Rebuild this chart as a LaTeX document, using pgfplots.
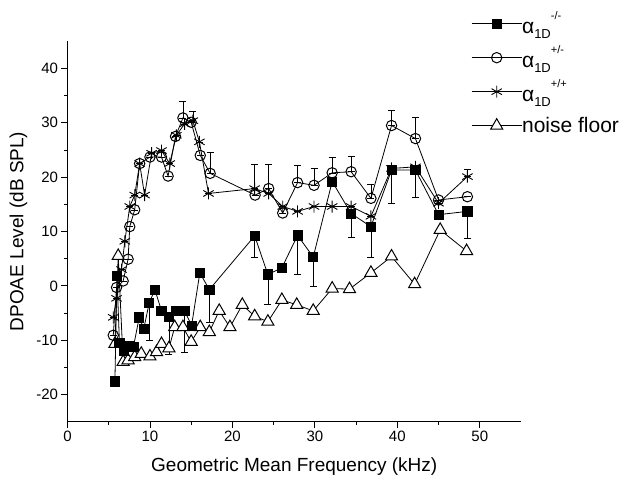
\documentclass[border=0pt]{standalone}
\usepackage{pgfplots}
\pgfplotsset{compat=1.18}
\usepackage{pgfplotstable}
\usepackage{fontspec}
\setmainfont{Liberation Sans}

% alpha_1D -/-
\pgfplotstableread{
f y ep em
5.75 -17.6 0 0
6.0 1.8 0 0
6.3 -10.5 0 0
6.8 -12.0 0 0
7.4 -11.0 0 0
8.0 -11.2 0 0
8.7 -5.8 0 0
9.25 -7.9 0 0
9.9 -3.2 0 6.8
10.6 -0.7 0 0
11.4 -4.6 0 0
12.3 -5.7 0 6.8
13.1 -4.6 0 0
14.2 -4.6 0 7.6
15.05 -7.3 0 0
16.05 2.4 0 0
17.2 -0.7 0 6.0
22.7 9.2 0 3.9
24.3 2.1 0 5.4
26.0 3.3 0 0
27.9 9.3 0 7.2
29.8 5.3 0 5.4
32.1 19.2 0 0
34.4 13.3 0 4.3
36.8 10.9 0 5.7
39.3 21.3 0 6.1
42.2 21.3 0 5.0
45.0 13.1 0 0
48.5 13.7 0 4.9
}\homo

% alpha_1D +/-
\pgfplotstableread{
f y ep em
5.55 -9.1 0 0
5.95 -0.3 0 0
6.75 0.9 0 0
7.35 4.9 0 0
7.55 10.9 0 0
8.15 14.0 0 0
8.75 22.5 0 0
10.0 23.7 0 0
11.4 23.7 0 0
12.2 20.2 0 0
13.1 27.5 0 0
14.0 30.9 3.1 0
15.0 30.1 0 0
16.1 24.0 0 0
17.3 20.7 3.9 0
22.75 16.7 0 0
24.4 17.9 4.4 0
26.1 13.4 0 0
27.9 19.0 3.2 0
29.9 18.5 3.1 0
32.1 20.8 2.9 0
34.4 21.0 2.8 0
36.8 16.1 2.6 0
39.3 29.5 2.8 0
42.2 27.1 3.9 0
45.0 15.8 0 0
48.5 16.4 0 0
}\het

% alpha_1D +/+
\pgfplotstableread{
f y ep em
5.55 -5.8 0 0
5.95 -2.3 0 0
6.55 3.0 0 0
6.95 8.2 0 0
7.55 14.6 0 0
8.15 16.7 0 0
8.75 22.5 0 0
9.35 16.7 0 0
10.2 24.4 0 0
11.4 24.9 0 0
12.4 22.5 0 0
13.2 27.7 0 0
14.2 29.8 0 0
15.2 30.4 1.8 0
16.0 26.5 0 0
17.1 17.0 0 0
22.7 17.9 4.4 0
24.4 17.0 0 0
26.1 14.6 0 0
27.9 13.7 0 0
29.9 14.6 0 0
32.1 14.6 0 0
34.4 14.6 0 0
36.8 12.8 0 0
39.3 21.6 0 0
42.2 21.9 0 0
45.0 15.2 0 0
48.5 20.1 1.3 0
}\wild

% noise floor
\pgfplotstableread{
f y
5.75 -10.7
6.15 5.5
6.75 -14.0
7.35 -13.7
8.15 -13.1
8.95 -12.5
10.0 -13.0
10.8 -12.2
11.4 -10.7
12.3 -11.5
13.0 -7.6
14.0 -7.6
15.0 -10.3
16.1 -7.6
17.2 -8.5
18.4 -4.6
19.7 -7.6
21.2 -3.5
22.7 -5.6
24.3 -6.6
26.0 -2.6
27.8 -3.5
29.8 -4.6
32.1 -0.5
34.2 -0.6
36.8 2.4
39.3 5.4
42.1 0.3
45.2 10.3
48.4 6.4
}\noise

\newcommand{\alab}[1]{α\raisebox{-0.45ex}{\fontsize{13}{13}\selectfont 1D}\raisebox{1.25ex}{\fontsize{11}{11}\selectfont #1}}

\begin{document}
\begin{tikzpicture}[x=1pt,y=1pt]
\useasboundingbox (-67.5,-65.3) rectangle (558.5,421.7);
\begin{axis}[
  at={(0,0)}, anchor=south west,
  scale only axis, width=453.5pt, height=380.4pt,
  xmin=0, xmax=55, ymin=-25, ymax=45,
  axis lines=left,
  axis line style={-, line width=1pt},
  tick align=outside,
  major tick length=6pt, minor tick length=3.5pt,
  tick style={black, line width=0.9pt},
  xtick={0,10,...,50}, minor x tick num=1,
  ytick={-20,-10,...,40}, minor y tick num=1,
  /pgf/number format/assume math mode=true,
  tick label style={font=\fontsize{15}{17}\selectfont},
  xlabel={Geometric Mean Frequency (kHz)},
  ylabel={DPOAE Level (dB SPL)},
  label style={font=\fontsize{19}{22}\selectfont},
  xlabel style={yshift=-9pt},
  ylabel style={yshift=2pt},
  clip=false,
  reverse legend,
  legend cell align=left,
  legend style={at={(0.89,1.0915)}, anchor=north west, draw=none, fill=none,
    inner sep=0pt, font=\fontsize{21}{23}\selectfont,
    nodes={inner sep=0pt, minimum height=34pt},
    /tikz/every even column/.append style={column sep=6pt}},
  legend image code/.code={\draw[mark repeat=2,mark phase=2,#1] plot coordinates {(0pt,0pt) (25pt,0pt) (50pt,0pt)};},
  every axis plot/.append style={black, line width=0.8pt},
  error bars/error bar style={line width=0.5pt, black},
  error bars/error mark options={rotate=90, mark size=3.5pt, line width=0.5pt},
]
\addplot[mark=triangle*, mark size=7pt, mark options={fill=white, line width=1pt}]
  table[x=f, y=y] {\noise};
\addlegendentry{noise floor}
\addplot[mark=asterisk, mark size=6pt, mark options={line width=0.9pt},
  error bars/.cd, y dir=both, y explicit]
  table[x=f, y=y, y error plus=ep, y error minus=em] {\wild};
\addlegendentry{\alab{+/+}}
\addplot[mark=o, mark size=5.2pt, mark options={fill=white, line width=1pt},
  error bars/.cd, y dir=both, y explicit]
  table[x=f, y=y, y error plus=ep, y error minus=em] {\het};
\addlegendentry{\alab{+/-}}
\addplot[mark=square*, mark size=4.6pt, mark options={fill=black},
  error bars/.cd, y dir=both, y explicit]
  table[x=f, y=y, y error plus=ep, y error minus=em] {\homo};
\addlegendentry{\alab{-/-}}
\end{axis}
\end{tikzpicture}
\end{document}
